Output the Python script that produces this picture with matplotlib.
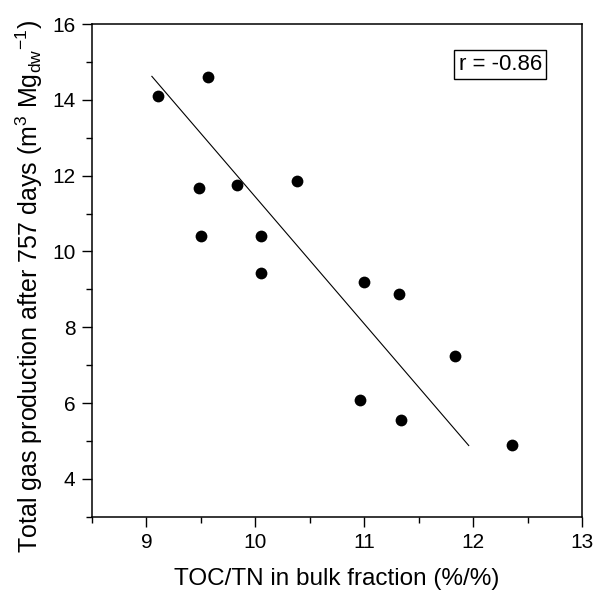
import numpy as np
import matplotlib
matplotlib.use("Agg")
import matplotlib.pyplot as plt
from matplotlib.ticker import MultipleLocator

plt.rcParams['font.family'] = ['Liberation Sans', 'DejaVu Sans']
plt.rcParams['mathtext.fontset'] = 'custom'
plt.rcParams['mathtext.rm'] = 'Liberation Sans'
plt.rcParams['mathtext.it'] = 'Liberation Sans'

# TOC/TN ratio vs total gas production
toc_tn = [9.11, 9.57, 9.48, 9.83, 10.38, 9.50, 10.05, 10.05, 11.00, 11.32, 11.83, 10.96, 11.34, 12.36]
gas = [14.1, 14.6, 11.68, 11.76, 11.85, 10.42, 10.40, 9.43, 9.20, 8.88, 7.25, 6.09, 5.56, 4.90]

# regression line end points
fit_x = [9.05, 11.96]
fit_y = [14.62, 4.88]
r_text = "r = -0.86"

fig = plt.figure(figsize=(5.95, 5.94), dpi=100)
ax = fig.add_axes([0.1546, 0.130, 0.8235, 0.8295])

ax.scatter(toc_tn, gas, s=72, color='black', zorder=3, linewidths=0)
ax.plot(fit_x, fit_y, color='black', lw=0.8)

ax.set_xlim(8.5, 13)
ax.set_ylim(3, 16)
ax.xaxis.set_major_locator(MultipleLocator(1))
ax.xaxis.set_minor_locator(MultipleLocator(0.5))
ax.yaxis.set_minor_locator(MultipleLocator(1))
ax.set_yticks([4, 6, 8, 10, 12, 14, 16])
ax.tick_params(which='major', direction='out', length=7, width=1, labelsize=15, pad=5, top=False, right=False)
ax.tick_params(which='minor', direction='out', length=4, width=1, top=False, right=False)
for sp in ax.spines.values():
    sp.set_linewidth(1.1)

ax.set_xlabel('TOC/TN in bulk fraction (%/%)', fontsize=17.5, labelpad=11)
ax.set_ylabel(r'Total gas production after 757 days (m$^{3}$ Mg$_{dw}$$^{-1}$)', fontsize=18, labelpad=5)
ax.yaxis.label.set_y(0.468)

ax.text(0.833, 0.918, r_text, transform=ax.transAxes, fontsize=16, ha='center', va='center',
        bbox=dict(boxstyle='square,pad=0.2', fc='white', ec='black', lw=1))

fig.savefig('out.png', dpi=100)
